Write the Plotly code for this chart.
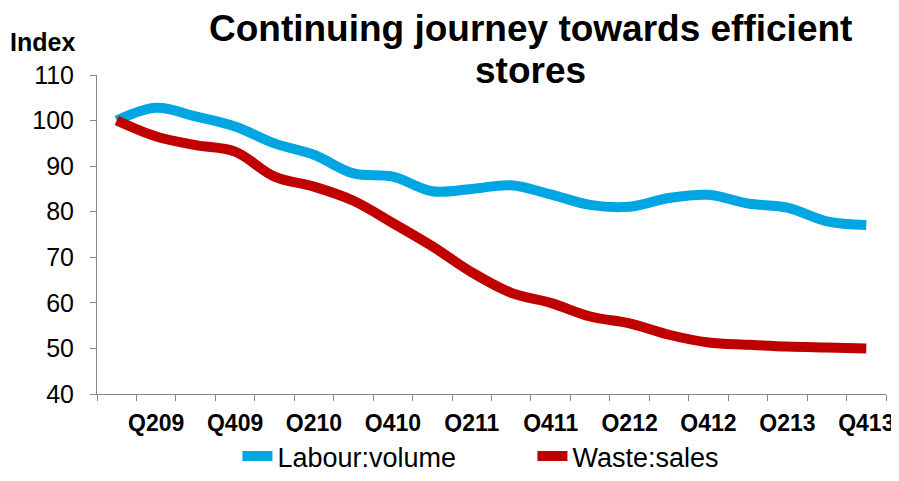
import plotly.graph_objects as go

quarters = ["Q109", "Q209", "Q309", "Q409", "Q110", "Q210", "Q310", "Q410",
            "Q111", "Q211", "Q311", "Q411", "Q112", "Q212", "Q312", "Q412",
            "Q113", "Q213", "Q313", "Q413"]
labour_volume = [100, 102.8, 100.9, 98.7, 95.0, 92.5, 88.4, 87.7, 84.5, 85.0,
                 85.8, 83.8, 81.5, 81.1, 83.0, 83.7, 81.8, 80.9, 77.9, 77.1]
waste_sales = [100, 96.5, 94.6, 93.2, 87.7, 85.5, 82.4, 77.5, 72.4, 66.7,
               62.2, 60.0, 57.0, 55.5, 53.0, 51.3, 50.8, 50.4, 50.2, 50.0]
tick_text = [q if i % 2 == 1 else "" for i, q in enumerate(quarters)]

FONT = "Liberation Sans, Arial, sans-serif"

fig = go.Figure()
fig.add_trace(go.Scatter(x=quarters, y=labour_volume, name="Labour:volume", mode="lines",
                         line=dict(color="#00A6E2", width=10, shape="spline", smoothing=1.0)))
fig.add_trace(go.Scatter(x=quarters, y=waste_sales, name="Waste:sales", mode="lines",
                         line=dict(color="#C00000", width=10, shape="spline", smoothing=1.0)))

# page body adds an 8px margin, so the figure is a little smaller than the window
fig.update_layout(
    width=891, height=473,
    margin=dict(l=89, r=13, t=67, b=87, autoexpand=False),
    plot_bgcolor="white", paper_bgcolor="white",
    xaxis=dict(type="category", tickmode="array", tickvals=quarters, ticktext=tick_text,
               tickson="boundaries", ticks="outside", ticklen=6, tickcolor="#868686",
               showline=True, linecolor="#868686", linewidth=1, showgrid=False,
               tickangle=0, automargin=False, ticklabelstandoff=8,
               tickfont=dict(family=FONT, size=23, color="black", weight="bold"),
               range=[-0.5, 19.5]),
    yaxis=dict(range=[40, 110], dtick=10, ticks="outside", ticklen=6, tickcolor="#868686",
               showline=True, linecolor="#868686", linewidth=1, showgrid=False, zeroline=False,
               automargin=False, ticklabelstandoff=11,
               tickfont=dict(family=FONT, size=25, color="black")),
    legend=dict(orientation="h", x=0.178, xanchor="left", y=-87 / 319, yanchor="bottom",
                font=dict(family=FONT, size=27, color="black"), entrywidth=250),
    showlegend=True,
)

# title as two centred lines
fig.add_annotation(text="<b>Continuing journey towards efficient</b>", xref="paper", yref="paper",
                   x=0.549, y=1 + 47 / 319, xanchor="center", yanchor="middle", showarrow=False,
                   font=dict(family=FONT, size=37, color="black"))
fig.add_annotation(text="<b>stores</b>", xref="paper", yref="paper",
                   x=0.549, y=1 + 5 / 319, xanchor="center", yanchor="middle", showarrow=False,
                   font=dict(family=FONT, size=37, color="black"))
fig.add_annotation(text="<b>Index</b>", xref="paper", yref="paper", x=-0.113, y=1 + 33 / 319,
                   xanchor="left", yanchor="middle", showarrow=False,
                   font=dict(family=FONT, size=25, color="black"))

fig.write_html("out.html")
